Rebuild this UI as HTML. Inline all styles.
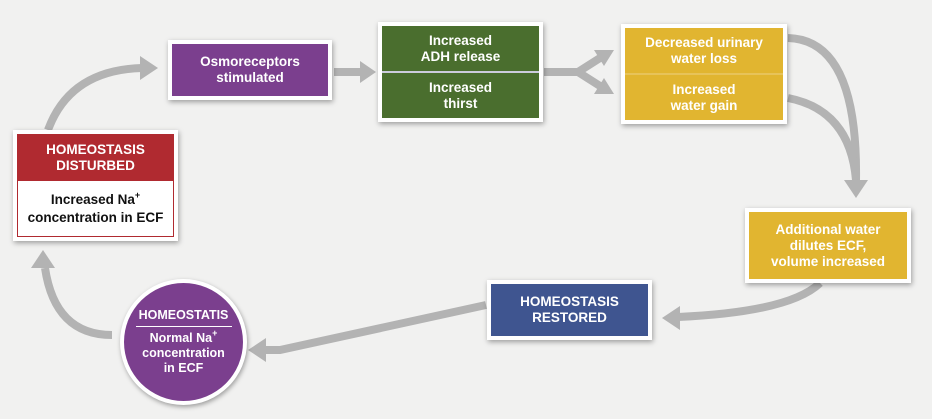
<!DOCTYPE html>
<html><head><style>
body{margin:0;width:932px;height:419px;background:#f1f1f0;position:relative;overflow:hidden;font-family:"Liberation Sans",sans-serif;font-weight:bold;}
.b{position:absolute;border:4px solid #fff;box-shadow:1px 2px 5px rgba(0,0,0,.35);color:#fff;text-align:center;font-size:13.5px;line-height:16px;display:flex;flex-direction:column;}
.b>div{flex:1;display:flex;align-items:center;justify-content:center;}
.b>div>span{display:block;}
sup{font-size:9px;line-height:0;vertical-align:6px;}
</style></head><body>
<svg width="932" height="419" style="position:absolute;left:0;top:0">
<g fill="none" stroke="#b3b3b3" stroke-width="8">
<path d="M48 130 Q70 70 142 68"/>
<path d="M334 72 L362 72"/>
<path d="M544 72 L578 72 L600 58 M578 72 L600 86"/>
<path d="M788 38 Q858 40 856 180"/>
<path d="M788 98 Q850 110 856 180"/>
<path d="M820 283 Q790 312 678 317"/>
<path d="M486 305 L280 350 L265 350"/>
<path d="M112 335 Q55 335 45 268"/>
</g>
<g fill="#b3b3b3">
<polygon points="158,68 140,56 140,80"/>
<polygon points="376,72 360,61 360,83"/>
<polygon points="614,50 594,50 604,66"/>
<polygon points="614,94 594,94 604,78"/>
<polygon points="856,198 844,180 868,180"/>
<polygon points="662,318 680,306 680,330"/>
<polygon points="248,350 266,338 266,362"/>
<polygon points="43,250 31,268 55,268"/>
</g>
</svg>
<div class="b" style="left:168px;top:40px;width:156px;height:52px;background:#7b3f8e"><div><span>Osmoreceptors<br>stimulated</span></div></div>
<div class="b" style="left:378px;top:22px;width:157px;height:92px;background:#4a6e2e"><div style="border-bottom:2px solid #ccd"><span>Increased<br>ADH release</span></div><div><span>Increased<br>thirst</span></div></div>
<div class="b" style="left:621px;top:24px;width:158px;height:92px;background:#e1b530"><div style="border-bottom:2px solid #fff3"><span>Decreased urinary<br>water loss</span></div><div><span>Increased<br>water gain</span></div></div>
<div class="b" style="left:745px;top:208px;width:158px;height:67px;background:#e1b530"><div><span>Additional water<br>dilutes ECF,<br>volume increased</span></div></div>
<div class="b" style="left:487px;top:280px;width:157px;height:52px;background:#3f5590"><div><span>HOMEOSTASIS<br>RESTORED</span></div></div>
<div class="b" style="left:13px;top:130px;width:157px;height:103px;background:#fff;"><div style="background:#b02a30;flex:0 0 47px"><span>HOMEOSTASIS<br>DISTURBED</span></div><div style="color:#111;border:1px solid #b02a30;border-top:none;line-height:18px"><span>Increased Na<sup>+</sup><br>concentration in ECF</span></div></div>
<div class="b" style="left:120px;top:279px;width:119px;height:118px;border-radius:50%;background:#7b3f8e;justify-content:center;align-items:center;font-size:12.5px;line-height:15px">
<span style="display:block;width:96px"><span style="border-bottom:1px solid #fff;padding-bottom:3px;margin-bottom:4px;display:block">HOMEOSTATIS</span>Normal Na<sup>+</sup><br>concentration<br>in ECF</span></div>
</body></html>
